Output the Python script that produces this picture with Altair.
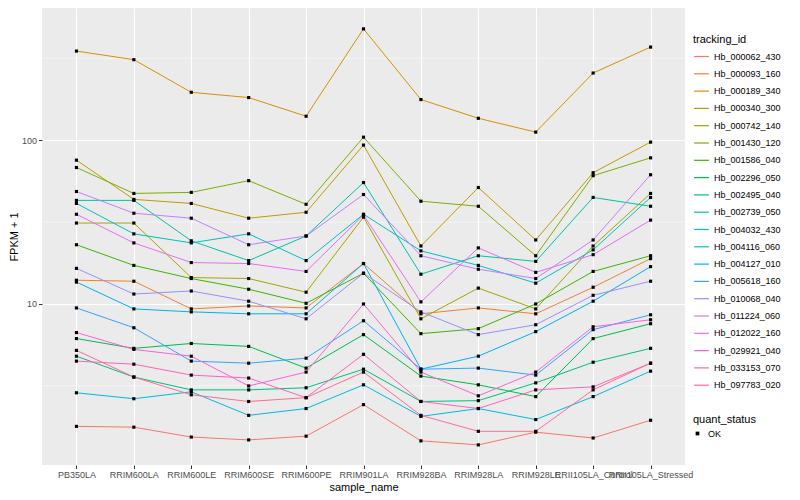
import altair as alt
import pandas as pd

samples = ["PB350LA", "RRIM600LA", "RRIM600LE", "RRIM600SE", "RRIM600PE", "RRIM901LA",
           "RRIM928BA", "RRIM928LA", "RRIM928LE", "RRII105LA_Control", "RRII105LA_Stressed"]

ids = ["Hb_000062_430", "Hb_000093_160", "Hb_000189_340", "Hb_000340_300", "Hb_000742_140",
       "Hb_001430_120", "Hb_001586_040", "Hb_002296_050", "Hb_002495_040", "Hb_002739_050",
       "Hb_004032_430", "Hb_004116_060", "Hb_004127_010", "Hb_005618_160", "Hb_010068_040",
       "Hb_011224_060", "Hb_012022_160", "Hb_029921_040", "Hb_033153_070", "Hb_097783_020"]

v_000062_430 = [1.79, 1.77, 1.54, 1.48, 1.56, 2.43, 1.46, 1.38, 1.65, 1.52, 1.95]
v_000093_160 = [13.96, 13.77, 9.33, 9.73, 9.46, 17.66, 8.71, 9.46, 8.71, 12.65, 18.92]
v_000189_340 = [350, 310, 196, 182, 140, 478, 177, 136, 112, 257, 370]
v_000340_300 = [75.5, 43.5, 41.1, 33.4, 36.3, 93.3, 22.6, 51.4, 24.6, 63.3, 97.3]
v_000742_140 = [31.2, 31.2, 14.5, 14.3, 11.8, 33.9, 8.12, 12.5, 9.33, 22.6, 47.3]
v_001430_120 = [68.1, 47.3, 48.0, 56.6, 40.6, 104.3, 42.4, 39.5, 19.7, 60.7, 78.0]
v_001586_040 = [23.0, 17.2, 14.3, 12.3, 10.1, 15.4, 6.59, 7.07, 10.0, 15.8, 19.7]
v_002296_050 = [6.15, 5.36, 5.74, 5.51, 4.06, 6.50, 3.63, 3.21, 2.72, 6.15, 7.58]
v_002495_040 = [4.80, 3.58, 2.99, 2.99, 3.08, 4.00, 2.54, 2.57, 3.30, 4.41, 5.36]
v_002739_050 = [42.9, 42.9, 24.3, 18.4, 26.0, 55.1, 15.2, 19.7, 18.2, 44.7, 39.5]
v_004032_430 = [41.1, 26.8, 23.6, 26.8, 18.4, 35.3, 21.1, 17.2, 13.4, 21.4, 44.7]
v_004116_060 = [2.87, 2.64, 2.91, 2.09, 2.30, 3.21, 2.06, 2.30, 1.97, 2.72, 3.89]
v_004127_010 = [13.6, 9.33, 8.95, 8.71, 8.71, 17.66, 4.00, 4.80, 6.78, 10.4, 16.9]
v_005618_160 = [9.46, 7.16, 4.48, 4.35, 4.67, 7.90, 4.00, 4.06, 3.68, 6.97, 8.59]
v_010068_040 = [16.5, 11.5, 12.0, 10.4, 8.12, 15.4, 8.95, 6.50, 7.47, 11.3, 13.77]
v_011224_060 = [48.6, 35.8, 33.4, 23.0, 26.0, 46.6, 19.7, 16.3, 14.3, 24.6, 61.5]
v_012022_160 = [35.3, 23.6, 17.9, 17.66, 15.8, 34.9, 10.3, 22.0, 15.6, 20.0, 32.5]
v_029921_040 = [6.69, 5.28, 4.80, 3.16, 3.84, 10.0, 3.84, 2.75, 3.84, 7.26, 8.01]
v_033153_070 = [4.48, 4.29, 3.68, 3.53, 2.68, 4.93, 2.54, 2.30, 2.99, 3.12, 4.35]
v_097783_020 = [5.21, 3.58, 2.79, 2.54, 2.68, 3.84, 2.09, 1.67, 1.67, 2.99, 4.35]

series = [v_000062_430, v_000093_160, v_000189_340, v_000340_300, v_000742_140,
          v_001430_120, v_001586_040, v_002296_050, v_002495_040, v_002739_050,
          v_004032_430, v_004116_060, v_004127_010, v_005618_160, v_010068_040,
          v_011224_060, v_012022_160, v_029921_040, v_033153_070, v_097783_020]

palette = ["#F8766D", "#EA8331", "#D89000", "#C09B00", "#A3A500", "#7CAE00", "#39B600",
           "#00BB4E", "#00BF7D", "#00C1A3", "#00BFC4", "#00BAE0", "#00B0F6", "#35A2FF",
           "#9590FF", "#C77CFF", "#E76BF3", "#FA62DB", "#FF62BC", "#FF6C91"]

minor_breaks = [3.1623, 31.623, 316.23]
major_breaks = [10, 100]

rows = []
for tid, vals in zip(ids, series):
    for s, v in zip(samples, vals):
        rows.append({"tracking_id": tid, "sample_name": s, "fpkm": v, "quant_status": "OK"})
df = pd.DataFrame(rows)
minor_df = pd.DataFrame({"fpkm": minor_breaks})

FONT = "Liberation Sans"

xenc = alt.X("sample_name:N", sort=samples,
             scale=alt.Scale(type="point", padding=0.6),
             axis=alt.Axis(title="sample_name", grid=True, gridColor="white", gridWidth=1.1,
                           domain=False, tickColor="#333333", tickSize=3.5, labelAngle=0,
                           labelOverlap=False, labelBound=False, labelFontSize=9,
                           labelColor="#4D4D4D", labelFont=FONT, labelPadding=2,
                           titleFont=FONT, titleFontSize=11, titleFontWeight="normal",
                           titleColor="black", titlePadding=2))
yscale = alt.Scale(type="log", domain=[1.04, 641], nice=False)
yaxis = alt.Axis(title="FPKM + 1", values=major_breaks, format="d", grid=True,
                 gridColor="white", gridWidth=1.1, domain=False,
                 tickColor="#333333", tickSize=3.5, labelFontSize=9,
                 labelColor="#4D4D4D", labelFont=FONT, labelPadding=2,
                 titleFont=FONT, titleFontSize=11, titleFontWeight="normal",
                 titleColor="black", titlePadding=2)

minor = alt.Chart(minor_df).mark_rule(color="white", strokeWidth=0.55).encode(
    y=alt.Y("fpkm:Q", scale=yscale, axis=yaxis))

lines = alt.Chart(df).mark_line(strokeWidth=1).encode(
    x=xenc, y=alt.Y("fpkm:Q", scale=yscale, axis=yaxis),
    color=alt.Color("tracking_id:N", sort=ids,
                    scale=alt.Scale(domain=ids, range=palette),
                    legend=alt.Legend(title="tracking_id", orient="none", legendX=651,
                                      legendY=26, symbolType="stroke", symbolSize=220,
                                      symbolStrokeWidth=1.2, labelFontSize=9, labelFont=FONT,
                                      titleFont=FONT, titleFontSize=11,
                                      titleFontWeight="normal", rowPadding=3.3,
                                      titlePadding=3, labelOffset=4)),
    detail="tracking_id:N")

points = alt.Chart(df).mark_point(filled=True, size=10, opacity=1).encode(
    x=alt.X("sample_name:N", sort=samples), y=alt.Y("fpkm:Q", scale=yscale),
    shape=alt.Shape("quant_status:N", scale=alt.Scale(domain=["OK"], range=["square"]),
                    legend=alt.Legend(title="quant_status", orient="none", legendX=651,
                                      legendY=406, symbolFillColor="black",
                                      symbolStrokeColor="black", symbolSize=14,
                                      labelFontSize=9, labelFont=FONT, titleFont=FONT,
                                      titleFontSize=11, titleFontWeight="normal",
                                      titlePadding=4, labelOffset=6)),
    color=alt.value("black"))

chart = alt.layer(minor, lines, points).properties(
    width=643, height=457, padding={"left": 0, "top": 0, "right": 0, "bottom": 0},
    background="white"
).configure_view(fill="#EBEBEB", strokeWidth=0)

chart.save("out.html", embed_options={"renderer": "svg", "actions": False})
